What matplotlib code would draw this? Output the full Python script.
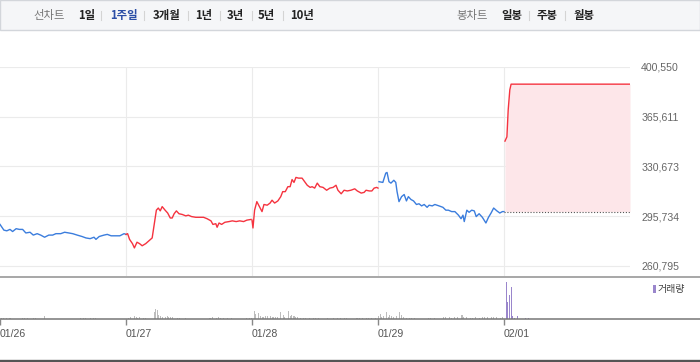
import matplotlib
matplotlib.use("Agg")
import matplotlib.pyplot as plt
from matplotlib.lines import Line2D
from matplotlib.patches import Rectangle


# ============================================================
# Data (1 week, intraday, minutes from 09:00 in a 390-min session)
# ============================================================

days = ["01/26", "01/27", "01/28", "01/29", "02/01"]
day_up = [False, True, True, False, True]
session_min = 390
prev_close = 299000

t_d1 = [0, 12, 21, 31, 39, 50, 60, 70, 80, 93, 103, 115, 126, 138, 151, 163, 173, 188,
        200, 213, 225, 239, 254, 266, 279, 291, 297, 307, 322, 332, 344, 359, 371, 384, 390]
p_d1 = [290000, 286000, 285500, 286500, 285000, 287000, 286500, 286500, 284000, 284500,
        282500, 283500, 282500, 281000, 282500, 282500, 283500, 283500, 284500, 284000,
        283500, 282500, 281500, 280500, 280000, 281000, 279500, 281500, 282500, 283000,
        282000, 282000, 282000, 283500, 283000]

t_d2 = [0, 5, 11, 20, 26, 34, 42, 50, 61, 71, 81, 88, 94, 100, 106, 112, 121, 129, 137, 143,
        149, 156, 164, 174, 185, 193, 203, 216, 228, 240, 251, 263, 269, 278, 282, 288, 296,
        306, 319, 329, 341, 352, 364, 374, 387]
p_d2 = [283000, 283500, 279500, 276500, 273500, 277500, 276500, 275000, 276500, 278500,
        280500, 291000, 300000, 301500, 299500, 302500, 300000, 298000, 294500, 294500,
        297500, 299500, 297500, 297000, 296000, 296500, 295500, 295000, 295000, 295000,
        294000, 292500, 290000, 290500, 288000, 291000, 290000, 291500, 292000, 292500,
        292000, 292500, 292000, 293000, 293500]

t_d3 = [0, 3, 8, 15, 23, 31, 37, 47, 56, 62, 70, 80, 89, 95, 103, 111, 118, 124, 130, 136,
        144, 155, 163, 171, 180, 186, 194, 202, 210, 220, 231, 241, 251, 260, 266, 276, 285,
        295, 306, 318, 326, 338, 347, 353, 363, 371, 378, 386, 390]
p_d3 = [293000, 287500, 300000, 306000, 302500, 299000, 304000, 303500, 305000, 307000,
        305000, 306500, 309500, 313000, 313000, 316500, 316500, 321500, 319500, 323000,
        322500, 322500, 320000, 317500, 316000, 316500, 315500, 319000, 316500, 316000,
        314000, 315500, 316000, 317500, 314000, 311500, 314000, 313500, 314000, 315000,
        313500, 312000, 312500, 314000, 313500, 313500, 315500, 316000, 315500]

t_d4 = [3, 15, 24, 28, 34, 40, 49, 55, 59, 65, 73, 81, 88, 94, 102, 110, 119, 127, 135, 143,
        152, 158, 168, 176, 189, 201, 210, 218, 228, 238, 249, 257, 263, 267, 275, 282, 290,
        298, 304, 313, 323, 334, 342, 350, 358, 368, 377, 385, 390]
p_d4 = [320000, 319500, 326000, 326500, 320000, 319000, 321000, 319500, 313000, 306000,
        309500, 311000, 306500, 309500, 307500, 306500, 304000, 304500, 303000, 304000,
        302000, 303500, 303000, 304000, 303000, 302000, 300000, 300000, 299000, 299000,
        296500, 294000, 296500, 292000, 300000, 298500, 300000, 299500, 295500, 297500,
        295000, 291000, 295000, 298000, 301500, 299500, 298000, 299000, 299000]

t_d5 = [3, 9, 13, 18, 22, 390]
p_d5 = [348500, 351500, 370500, 384500, 388500, 388500]

price_ticks = [260795, 295734, 330673, 365611, 400550]

# volume: minutes from the start of the week (5 x 390 min)
vol_min = [6, 12, 19, 28, 34, 71, 77, 84, 105, 111, 137, 248, 257, 266, 279, 288, 297,
           399, 405, 415, 421, 427, 433, 443, 449, 477, 482, 487, 492, 498, 504, 511, 517,
           523, 529, 535, 548, 557, 573, 650, 659, 669, 675, 684, 693, 703, 718, 764, 771, 777,
           787, 792, 799, 805, 811, 817, 823, 829, 836, 842, 848, 854, 860, 869, 877, 882,
           892, 898, 903, 910, 916, 922, 929, 938, 947, 959, 969, 978, 987, 1015, 1031, 1046,
           1055, 1065, 1074, 1105, 1114, 1123, 1133, 1142, 1151, 1161,
           1172, 1178, 1182, 1186, 1195, 1201, 1205, 1212, 1217, 1226, 1236, 1243, 1250,
           1257, 1266, 1275, 1284, 1325, 1334, 1346, 1372, 1380, 1390, 1399, 1408, 1417,
           1427, 1430, 1436, 1445, 1455, 1464, 1473, 1483, 1492, 1501, 1510, 1520, 1529,
           1538, 1548, 1554,
           1567, 1570, 1576, 1582, 1587, 1592, 1601, 1627, 1635]
vol_k = [1, 1, 0.7, 1, 1, 0.7, 1, 0.7, 1, 1, 3.3, 0.7, 1, 0.7, 1, 0.7, 1,
         1, 2, 2.7, 1.7, 1.3, 1.7, 1, 1.3, 7, 10, 9, 4, 2.7, 2, 2.3, 3.3,
         2, 2.3, 1.7, 1, 1, 1, 1, 1.7, 1.3, 1.7, 1, 1.3, 1, 1, 1, 1, 1.3,
         7.7, 5, 6.3, 3, 2.3, 2, 2.7, 3.3, 3.3, 2, 2.3, 1.7, 2, 6.7, 4, 2.3,
         7.7, 3, 4.3, 2.7, 2, 1.7, 1.3, 1.3, 1, 1.3, 1.3, 1, 1.3, 1, 1, 1.3,
         1, 1.3, 1, 1, 1, 1, 1, 1.3, 1, 1.3,
         3, 5, 2, 3.3, 6.7, 2.3, 3.7, 3.3, 2.3, 3, 7.3, 4.3, 1.7,
         1.3, 1.3, 1, 1, 1.3, 1, 1.3, 2, 1.7, 1.7, 1.3, 2, 2.3,
         1.7, 4.3, 1.7, 2.3, 1.3, 1.3, 1.7, 1.3, 1.7, 2, 2, 2.3, 1.7,
         2.3, 1.3, 2,
         36.7, 16.7, 24.3, 31.7, 2.7, 1.3, 3.3, 1.3, 1.3]

day_times = [t_d1, t_d2, t_d3, t_d4, t_d5]
day_prices = [p_d1, p_d2, p_d3, p_d4, p_d5]


# ============================================================
# Style
# ============================================================

num_font = "Liberation Sans"
kr_font = ["Noto Sans CJK KR", "DejaVu Sans"]
plt.rcParams["font.family"] = [num_font, "Noto Sans CJK KR", "DejaVu Sans"]

red = "#f5333f"
blue = "#3b7ddd"
fill_red = "#fde6e9"
grid_c = "#ebebeb"
purple = "#9a86cc"
vol_gray = "#bdbdbd"

W, H = 700, 362
fig = plt.figure(figsize=(W / 100, H / 100), dpi=100)


def fy(py):
    return 1 - py / H


def fx(px):
    return px / W


def hline(py, x0, x1, color, lw, **kw):
    fig.add_artist(Line2D([fx(x0), fx(x1)], [fy(py), fy(py)], transform=fig.transFigure,
                          color=color, linewidth=lw, **kw))


# ============================================================
# Header
# ============================================================

fig.add_artist(Rectangle((0, fy(30)), 1, 30 / H, transform=fig.transFigure,
                         facecolor="#f5f6f8", edgecolor="#d3d6db", linewidth=1.0))

ty = fy(15.5)
hdr = [
    ("선차트", 33, "#777777", "normal"),
    ("1일", 78, "#222222", "bold"),
    ("1주일", 110, "#2b4ea6", "bold"),
    ("3개월", 153, "#222222", "bold"),
    ("1년", 195, "#222222", "bold"),
    ("3년", 227, "#222222", "bold"),
    ("5년", 258, "#222222", "bold"),
    ("10년", 290, "#222222", "bold"),
    ("봉차트", 456, "#777777", "normal"),
    ("일봉", 501, "#222222", "bold"),
    ("주봉", 537, "#222222", "bold"),
    ("월봉", 573, "#222222", "bold"),
]
for txt, px, col, wt in hdr:
    fig.text(fx(px), ty, txt, family=kr_font, fontsize=8.2, color=col,
             fontweight=wt, ha="left", va="center")
for px in [101, 144, 188, 220, 252, 283, 529, 565]:
    fig.add_artist(Line2D([fx(px), fx(px)], [fy(11), fy(19.5)], transform=fig.transFigure,
                          color="#d4d4d4", linewidth=0.8))


# ============================================================
# Price panel
# ============================================================

ax = fig.add_axes([0, fy(276), 630 / W, (276 - 67) / H])
x_end = len(days) * session_min
ax.set_xlim(0, x_end)
step = price_ticks[1] - price_ticks[0]
ax.set_ylim(price_ticks[0] - step * 10 / 49.75, price_ticks[-1])
for s in ax.spines.values():
    s.set_visible(False)

ax.set_yticks(price_ticks)
ax.set_yticklabels([f"{v:,}" for v in price_ticks])
ax.yaxis.tick_right()
ax.tick_params(axis="y", length=0, pad=8, labelsize=7.6, labelcolor="#666666")
ax.set_xticks([d * session_min for d in range(1, len(days))])
ax.tick_params(axis="x", length=0, labelbottom=False)
ax.grid(True, color=grid_c, linewidth=0.8)
ax.set_axisbelow(True)

for d, (tt, pp) in enumerate(zip(day_times, day_prices)):
    xs = [d * session_min + t for t in tt]
    col = red if day_up[d] else blue
    if d == len(days) - 1:
        ax.fill_between(xs, pp, prev_close, color=fill_red, linewidth=0, zorder=1)
        ax.plot([d * session_min, x_end], [prev_close, prev_close], color="#555555",
                linewidth=0.8, linestyle=(0, (1, 1.6)), zorder=2)
    ax.plot(xs, pp, color=col, linewidth=1.0, zorder=3)


# ============================================================
# Volume panel
# ============================================================

axv = fig.add_axes([0, fy(319), 630 / W, (319 - 277) / H])
axv.set_xlim(0, x_end)
axv.set_ylim(0, 42)
for s in axv.spines.values():
    s.set_visible(False)
last_day_start = (len(days) - 1) * session_min
vcols = [purple if m >= last_day_start else vol_gray for m in vol_min]
axv.bar(vol_min, vol_k, width=3.1, color=vcols, linewidth=0, align="center")
axv.set_yticks([])
axv.set_xticks([d * session_min for d in range(len(days))])
axv.set_xticklabels(days)
axv.tick_params(axis="x", direction="out", length=4, width=1.0, color="#888888",
                pad=3, labelsize=7.6, labelcolor="#555555")
for lab in axv.get_xticklabels():
    lab.set_horizontalalignment("left")

fig.add_artist(Rectangle((fx(653), fy(293)), 3 / W, 8 / H, transform=fig.transFigure,
                         facecolor=purple, edgecolor="none"))
fig.text(fx(658), fy(289), "거래량", family=kr_font, fontsize=7.2, color="#444444",
         ha="left", va="center")


# ============================================================
# Frame lines
# ============================================================

hline(276.5, 0, 700, "#8f8f8f", 1.1)
hline(319.3, 0, 700, "#777777", 1.1)
hline(361, 0, 700, "#555555", 2.4)

fig.savefig("out.png", dpi=100)
